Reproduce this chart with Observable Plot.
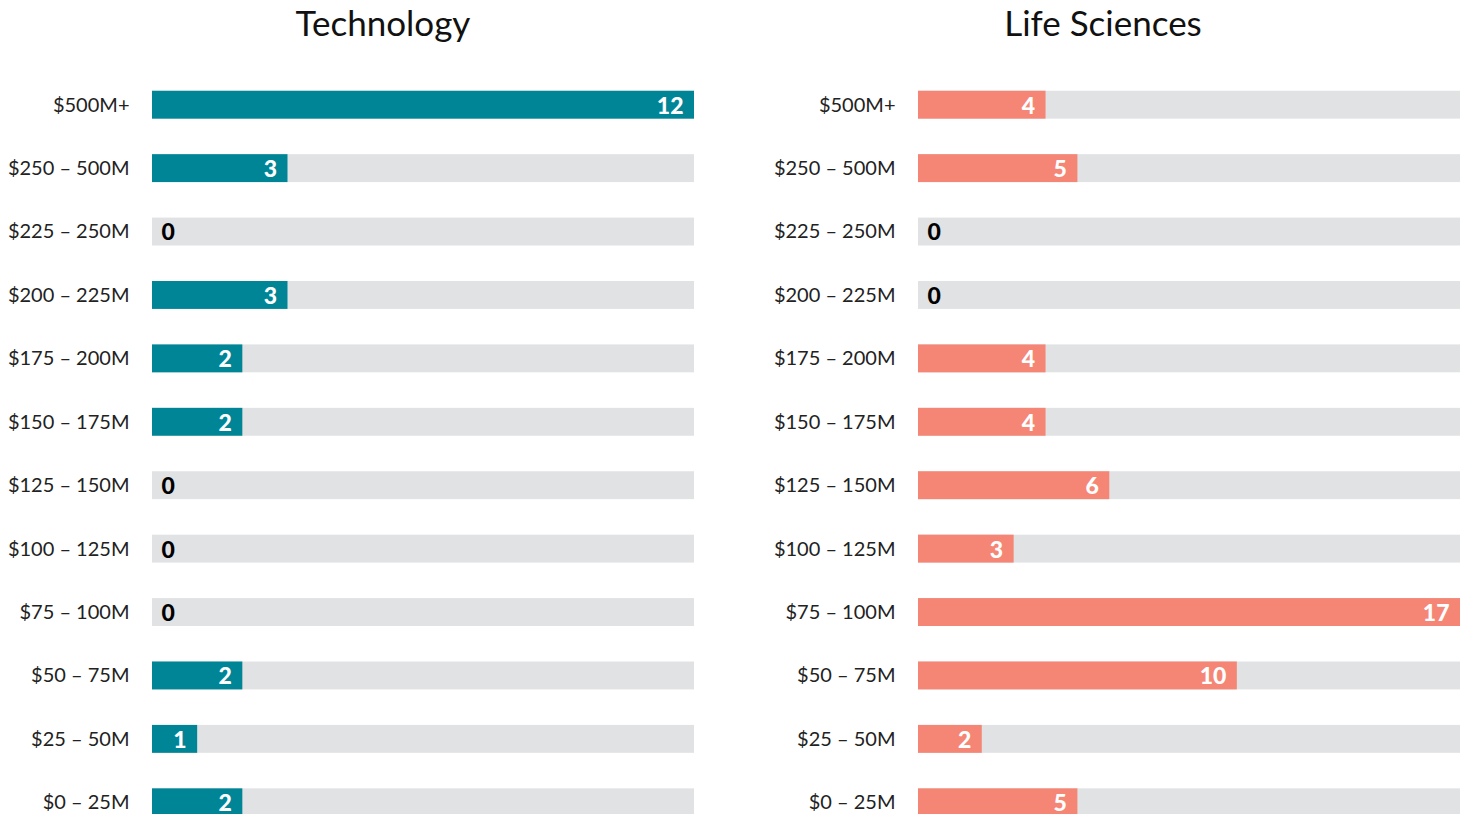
<!DOCTYPE html>
<html>
<head>
<meta charset="utf-8">
<script src="https://cdn.jsdelivr.net/npm/d3@7"></script>
<script src="https://cdn.jsdelivr.net/npm/@observablehq/plot@0.6"></script>
<style>
  html, body { margin: 0; padding: 0; background: #fff; overflow: hidden; width: 1469px; height: 814px; }
  #wrap { position: relative; width: 1469px; height: 814px; }
  .panel { position: absolute; top: 0; }
  .title { position: absolute; top: 1px; font-family: Lato, sans-serif; font-size: 35px; color: #111; transform: translateX(-50%); white-space: nowrap; }
</style>
</head>
<body>
<div id="wrap"></div>
<script>
const categories = ["$500M+", "$250 – 500M", "$225 – 250M", "$200 – 225M", "$175 – 200M", "$150 – 175M", "$125 – 150M", "$100 – 125M", "$75 – 100M", "$50 – 75M", "$25 – 50M", "$0 – 25M"];
const techValues = [12, 3, 0, 3, 2, 2, 0, 0, 0, 2, 1, 2];
const lifeValues = [4, 5, 0, 0, 4, 4, 6, 3, 17, 10, 2, 5];
const panelTitles = ["Technology", "Life Sciences"];
const panelColors = ["#008597", "#F58675"];

const wrap = document.getElementById("wrap");

function panel(values, color, width, marginLeft, marginRight) {
  const data = categories.map((c, i) => ({category: c, value: values[i]}));
  const max = d3.max(values);
  return Plot.plot({
    width,
    height: 840,
    marginTop: 73,
    marginBottom: 6,
    marginLeft,
    marginRight,
    style: {fontFamily: "Lato, sans-serif", background: "transparent"},
    x: {domain: [0, max], axis: null},
    y: {domain: categories, paddingInner: 0.56, paddingOuter: 0.28, round: false, label: null},
    axis: null,
    marks: [
      Plot.axisY({tickSize: 0, tickPadding: 23, label: null, fontSize: 20, fill: "#222", fontWeight: 400}),
      Plot.barX(data, {y: "category", x1: 0, x2: () => max, fill: "#E1E2E4"}),
      Plot.barX(data, {y: "category", x: "value", fill: color}),
      Plot.text(data.filter(d => d.value > 0), {y: "category", x: "value", text: d => String(d.value), textAnchor: "end", dx: -11, dy: 1, fill: "#fff", fontSize: 23, fontWeight: 900}),
      Plot.text(data.filter(d => d.value === 0), {y: "category", x: "value", text: d => String(d.value), textAnchor: "start", dx: 9, dy: 1, fill: "#000", fontSize: 23, fontWeight: 900})
    ]
  });
}

const p1 = panel(techValues, panelColors[0], 734, 152, 40);
p1.classList.add("panel"); p1.style.left = "0px";
const p2 = panel(lifeValues, panelColors[1], 735, 184, 9);
p2.classList.add("panel"); p2.style.left = "734px";
wrap.appendChild(p1);
wrap.appendChild(p2);

const centers = [383, 1103];
panelTitles.forEach((t, i) => {
  const d = document.createElement("div");
  d.className = "title";
  d.textContent = t;
  d.style.left = centers[i] + "px";
  wrap.appendChild(d);
});
</script>
</body>
</html>
